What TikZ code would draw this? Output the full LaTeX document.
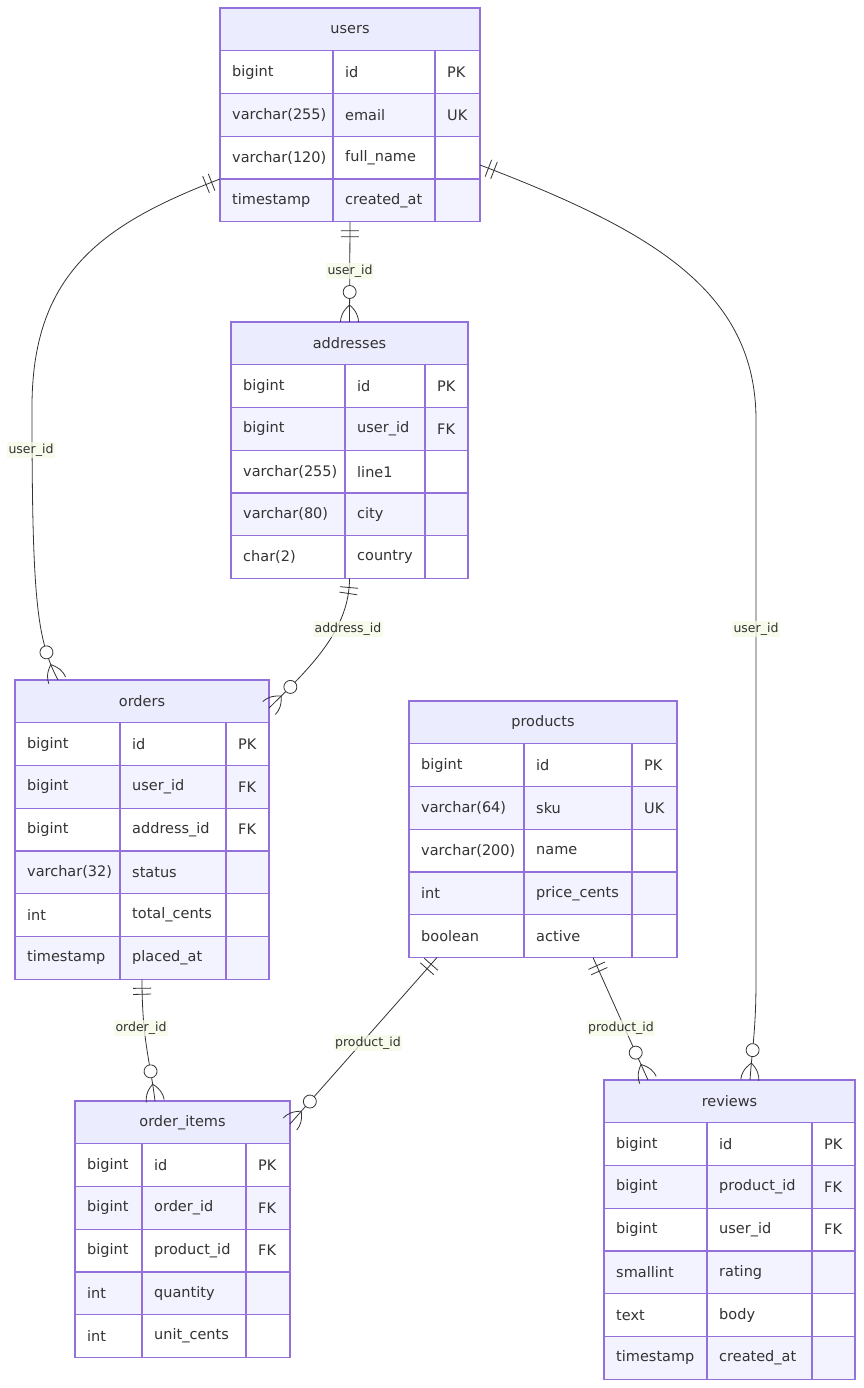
\documentclass[tikz,border=0pt]{standalone}
\usepackage{fontspec}
\setmainfont{DejaVu Sans}
\usetikzlibrary{decorations.markings,calc}
\definecolor{hdrfill}{HTML}{ECECFF}
\definecolor{rowlt}{HTML}{F3F3FF}
\definecolor{bord}{HTML}{9370DB}
\definecolor{txtc}{HTML}{333333}
\definecolor{edgec}{HTML}{333333}
\definecolor{lblbg}{HTML}{F4FAE6}
\tikzset{
  hdr/.style={draw=bord, line width=1.1pt, fill=hdrfill, minimum height=42.75pt, anchor=north west,
    inner sep=0pt, outer sep=0pt, text=txtc, font=\fontsize{14.5}{17}\selectfont},
  cellbox/.style={draw=bord, line width=1.1pt, minimum height=42.75pt, anchor=north west, inner sep=0pt, outer sep=0pt},
  celltxt/.style={anchor=west, inner sep=0pt, text=txtc, font=\fontsize{14.5}{17}\selectfont},
  frame/.style={draw=bord, line width=1.1pt, anchor=north west, inner sep=0pt, outer sep=0pt},
  edge/.style={draw=edgec, line width=0.8pt},
  lbl/.style={fill=lblbg, fill opacity=0.75, text opacity=1, text=txtc, inner sep=1.5pt,
    font=\fontsize{12.5}{15}\selectfont},
  onestart/.style={postaction={decorate, decoration={markings,
      mark=at position 9pt with {\draw[edge] (0,-9) -- (0,9);},
      mark=at position 15pt with {\draw[edge] (0,-9) -- (0,9);}}}},
  manyend/.style={postaction={decorate, decoration={markings,
      mark=at position -30pt with {\draw[edge, fill=white] (0,0) circle (6.5);},
      mark=at position -17pt with {\draw[edge] (0,0) .. controls (6,7) and (12,9) .. (17,9);
                                    \draw[edge] (0,0) .. controls (6,-7) and (12,-9) .. (17,-9);}}}}
}
\newcommand\ertable[9]{%
  \pgfmathsetmacro\ertw{#4+#5+#6}%
  \pgfmathsetmacro\erth{42.75*(#7+1)}%
  \node[hdr, minimum width=\ertw pt] (#1-h) at (#2,-#3) {#8};
  \foreach \a/\b/\c [count=\i] in {#9}{%
    \pgfmathsetmacro\ery{#3+42.75*\i}%
    \ifodd\i\def\rf{white}\else\def\rf{rowlt}\fi
    \node[cellbox, minimum width=#4pt, fill=\rf] (#1-\i-1) at (#2,-\ery) {};
    \node[cellbox, minimum width=#5pt, fill=\rf] (#1-\i-2) at (#2+#4,-\ery) {};
    \node[cellbox, minimum width=#6pt, fill=\rf] (#1-\i-3) at (#2+#4+#5,-\ery) {};
    \node[celltxt] (#1-\i-1t) at ([xshift=12pt]#1-\i-1.west) {\a};
    \node[celltxt] (#1-\i-2t) at ([xshift=12pt]#1-\i-2.west) {\b};
    \node[celltxt] (#1-\i-3t) at ([xshift=12pt]#1-\i-3.west) {\c};
  }
  \node[frame, minimum width=\ertw pt, minimum height=\erth pt] (#1) at (#2,-#3) {};
}
\begin{document}
\begin{tikzpicture}[x=1pt, y=1pt]
\path[use as bounding box, fill=white] (0,0) rectangle (863,-1388);

\ertable{users}{220}{8}{113}{102}{45}{4}{users}{bigint/id/PK, varchar(255)/email/UK, varchar(120)/full\_name/, timestamp/created\_at/}
\ertable{addresses}{231}{322}{114}{80}{43}{5}{addresses}{bigint/id/PK, bigint/user\_id/FK, varchar(255)/line1/, varchar(80)/city/, char(2)/country/}
\ertable{orders}{15}{680}{105}{106}{43}{6}{orders}{bigint/id/PK, bigint/user\_id/FK, bigint/address\_id/FK, varchar(32)/status/, int/total\_cents/, timestamp/placed\_at/}
\ertable{products}{409}{701}{115}{108}{45}{5}{products}{bigint/id/PK, varchar(64)/sku/UK, varchar(200)/name/, int/price\_cents/, boolean/active/}
\ertable{order_items}{75}{1101}{67}{104}{44}{5}{order\_items}{bigint/id/PK, bigint/order\_id/FK, bigint/product\_id/FK, int/quantity/, int/unit\_cents/}
\ertable{reviews}{604}{1080}{103}{105}{43}{6}{reviews}{bigint/id/PK, bigint/product\_id/FK, bigint/user\_id/FK, smallint/rating/, text/body/, timestamp/created\_at/}

% edges
\draw[edge, onestart, manyend] (users.south) -- (addresses.north);
\draw[edge, onestart, manyend] ([yshift=-171pt]users.north west) .. controls (100,-225) and (31,-275) .. (32,-410)
   .. controls (32,-600) and (37,-640) .. ([xshift=43pt]orders.north west);
\draw[edge, onestart, manyend] ([yshift=-157pt]users.north east) .. controls (650,-230) and (756,-290) .. (756,-420)
   -- (756,-980) .. controls (756,-1030) and (752,-1050) .. ([xshift=146pt]reviews.north west);
\draw[edge, onestart, manyend] (addresses.south) .. controls (349.5,-630) and (310,-668) .. ([yshift=-28pt]orders.north east);
\draw[edge, onestart, manyend] (orders.south) .. controls (142,-1040) and (150,-1060) .. ([xshift=80pt]order_items.north west);
\draw[edge, onestart, manyend] ([xshift=28pt]products.south west) -- ([yshift=-23pt]order_items.north east);
\draw[edge, onestart, manyend] ([xshift=184pt]products.south west) -- ([xshift=44pt]reviews.north west);

% labels
\node[lbl] (l1) at (350,-271) {user\_id};
\node[lbl] (l2) at (31,-450) {user\_id};
\node[lbl] (l3) at (756,-629) {user\_id};
\node[lbl] (l4) at (348,-629) {address\_id};
\node[lbl] (l5) at (141,-1028) {order\_id};
\node[lbl] (l6) at (368,-1043) {product\_id};
\node[lbl] (l7) at (621,-1028) {product\_id};
\end{tikzpicture}
\end{document}
